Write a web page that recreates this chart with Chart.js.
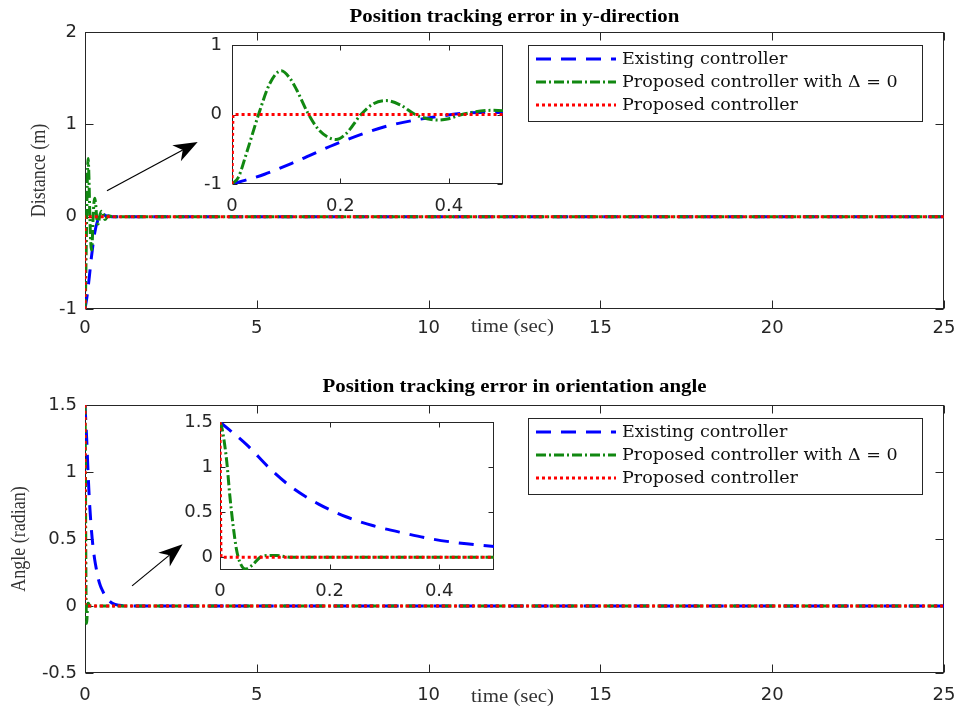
<!DOCTYPE html>
<html>
<head>
<meta charset="utf-8">
<script src="https://cdn.jsdelivr.net/npm/chart.js@4.4.1/dist/chart.umd.min.js"></script>
<style>
    body { margin: 0; background: #fff; }
    #wrap { position: relative; width: 960px; height: 711px; overflow: hidden; }
    canvas { position: absolute; }
</style>
</head>
<body>
<div id="wrap">
    <canvas id="mainTop" width="960" height="360" style="left:0;top:0"></canvas>
    <canvas id="mainBottom" width="960" height="351" style="left:0;top:360px"></canvas>
    <canvas id="insetTop" width="330" height="190" style="left:180px;top:30px"></canvas>
    <canvas id="insetBottom" width="330" height="195" style="left:170px;top:405px"></canvas>
</div>
<script>
// legend labels
const seriesLabels = ["Existing controller", "Proposed controller with Δ = 0", "Proposed controller"];

// y-direction error (time in sec, distance in m)
const yExistingT = [0, 0.06, 0.12, 0.19, 0.28, 0.37, 0.46, 0.52, 0.6, 0.8, 25];
const yExisting = [-1, -0.86, -0.67, -0.43, -0.18, -0.04, 0.03, 0.03, 0.01, 0, 0];

const yDeltaT = [0, 0.012, 0.027, 0.049, 0.07, 0.091, 0.107, 0.119, 0.14, 0.16, 0.178, 0.192, 0.21, 0.238, 0.26, 0.284, 0.31, 0.338, 0.36, 0.38, 0.4, 0.424, 0.479, 0.52, 0.58, 0.68, 0.8, 25];
const yDelta = [-1, -0.9, -0.55, 0, 0.45, 0.63, 0.52, 0.36, 0.02, -0.22, -0.33, -0.36, -0.28, 0, 0.15, 0.2, 0.14, 0, -0.06, -0.08, -0.06, 0, 0.06, 0.04, -0.03, 0.01, 0, 0];

const yProposedT = [0, 0.002, 25];
const yProposed = [-1, 0, 0];

// orientation angle error (time in sec, angle in radian)
const aExistingT = [0, 0.05, 0.09, 0.13, 0.18, 0.23, 0.28, 0.335, 0.39, 0.45, 0.5, 0.6, 0.7, 0.8, 1.0, 1.2, 25];
const aExisting = [1.5, 1.24, 0.99, 0.78, 0.59, 0.45, 0.35, 0.27, 0.2, 0.15, 0.12, 0.07, 0.04, 0.02, 0.005, 0, 0];

const aDeltaT = [0, 0.003, 0.012, 0.018, 0.024, 0.03, 0.036, 0.046, 0.058, 0.073, 0.088, 0.104, 0.13, 25];
const aDelta = [1.5, 1.45, 1.08, 0.68, 0.35, 0.09, -0.05, -0.13, -0.09, 0, 0.02, 0.02, 0, 0];

const aProposedT = [0, 0.002, 25];
const aProposed = [1.5, 0, 0];

// tick labels
const mainTimeTicks = [0, 5, 10, 15, 20, 25];
const distanceTicks = [-1, 0, 1, 2];
const angleTicks = [-0.5, 0, 0.5, 1, 1.5];
const insetTimeTicks = [0, 0.2, 0.4];
const insetDistanceTicks = [-1, 0, 1];
const insetAngleTicks = [0, 0.5, 1, 1.5];

const axisColor = "#262626";
const tickFont = { family: "DejaVu Sans", size: 18 };

function series(times, values) {
    return times.map((t, i) => ({ x: t, y: values[i] }));
}

function makeDatasets(existingT, existing, deltaT, delta, proposedT, proposed) {
    let sets = [
        { label: seriesLabels[0], data: series(existingT, existing), borderColor: "#0000ff", borderDash: [15, 10], order: 2 },
        { label: seriesLabels[1], data: series(deltaT, delta), borderColor: "#118811", borderDash: [10, 3, 2, 3], order: 1 },
        { label: seriesLabels[2], data: series(proposedT, proposed), borderColor: "#ff0000", borderDash: [3, 3], order: 0 }
    ];
    sets.forEach(d => {
        d.borderWidth = 3;
        d.pointRadius = 0;
        d.fill = false;
        d.cubicInterpolationMode = "monotone";
    });
    return sets;
}

function drawStretched(ctx, text, x, y, sx) {
    ctx.save();
    ctx.translate(x, y);
    ctx.scale(sx, 1);
    ctx.fillText(text, 0, 0);
    ctx.restore();
}

// MATLAB-like box, inward ticks, titles, legend and arrow
const decorPlugin = {
    id: "decor",
    beforeDatasetsDraw(chart, args, opts) {
        const ctx = chart.ctx;
        const a = chart.chartArea;
        const xs = chart.scales.x;
        const ys = chart.scales.y;
        const L = Math.round(a.left) + 0.5, R = Math.round(a.right) - 0.5;
        const T = Math.round(a.top) + 0.5, B = Math.round(a.bottom) - 0.5;
        const tl = opts.tickLen;

        ctx.save();
        ctx.strokeStyle = axisColor;
        ctx.lineWidth = 1;
        ctx.setLineDash([]);
        ctx.strokeRect(L, T, R - L, B - T);

        ctx.beginPath();
        xs.ticks.forEach(t => {
            const px = Math.round(xs.getPixelForValue(t.value)) + 0.5;
            ctx.moveTo(px, B); ctx.lineTo(px, B - tl);
            ctx.moveTo(px, T); ctx.lineTo(px, T + tl);
        });
        ys.ticks.forEach(t => {
            const py = Math.round(ys.getPixelForValue(t.value)) + 0.5;
            ctx.moveTo(L, py); ctx.lineTo(L + tl, py);
            ctx.moveTo(R, py); ctx.lineTo(R - tl, py);
        });
        ctx.stroke();
        ctx.restore();
    },
    afterDraw(chart, args, opts) {
        const ctx = chart.ctx;
        const a = chart.chartArea;
        const xs = chart.scales.x;
        const ys = chart.scales.y;
        const cx = (a.left + a.right) / 2;

        ctx.save();
        if (opts.title) {
            ctx.fillStyle = "#000";
            ctx.font = "bold 18px 'Liberation Serif'";
            ctx.textAlign = "center";
            ctx.textBaseline = "middle";
            drawStretched(ctx, opts.title, cx, a.top - opts.titleGap, 1.16);
        }

        if (opts.xlabel) {
            ctx.fillStyle = "#333";
            ctx.font = "18px 'Liberation Serif'";
            ctx.textAlign = "center";
            ctx.textBaseline = "middle";
            drawStretched(ctx, opts.xlabel, cx - 2, a.bottom + opts.xlabelGap, 1.16);
        }

        if (opts.ylabel) {
            ctx.save();
            ctx.fillStyle = "#333";
            ctx.font = "18px 'Liberation Serif'";
            ctx.textAlign = "center";
            ctx.textBaseline = "middle";
            ctx.translate(opts.ylabelX, (a.top + a.bottom) / 2);
            ctx.rotate(-Math.PI / 2);
            ctx.scale(1, 1.12);
            ctx.fillText(opts.ylabel, 0, 0);
            ctx.restore();
        }

        if (opts.arrow) {
            const x0 = xs.getPixelForValue(opts.arrow.from[0]), y0 = ys.getPixelForValue(opts.arrow.from[1]);
            const x1 = xs.getPixelForValue(opts.arrow.to[0]), y1 = ys.getPixelForValue(opts.arrow.to[1]);
            const ang = Math.atan2(y1 - y0, x1 - x0);
            const len = 24, half = 9, notch = 17;
            ctx.strokeStyle = "#000";
            ctx.fillStyle = "#000";
            ctx.lineWidth = 1.2;
            ctx.beginPath();
            ctx.moveTo(x0, y0);
            ctx.lineTo(x1 - Math.cos(ang) * notch, y1 - Math.sin(ang) * notch);
            ctx.stroke();
            ctx.save();
            ctx.translate(x1, y1);
            ctx.rotate(ang);
            ctx.beginPath();
            ctx.moveTo(0, 0);
            ctx.lineTo(-len, -half);
            ctx.lineTo(-notch, 0);
            ctx.lineTo(-len, half);
            ctx.closePath();
            ctx.fill();
            ctx.restore();
        }

        if (opts.legend) {
            const lg = opts.legend;
            ctx.fillStyle = "#fff";
            ctx.fillRect(lg.left, lg.top, lg.width, lg.height);
            ctx.strokeStyle = axisColor;
            ctx.lineWidth = 1;
            ctx.strokeRect(lg.left + 0.5, lg.top + 0.5, lg.width, lg.height);
            chart.data.datasets.forEach((d, i) => {
                const yy = lg.top + lg.firstRow + i * lg.rowH;
                ctx.strokeStyle = d.borderColor;
                ctx.lineWidth = 3;
                ctx.setLineDash(d.borderDash);
                ctx.beginPath();
                ctx.moveTo(lg.left + 8, yy);
                ctx.lineTo(lg.left + 88, yy);
                ctx.stroke();
                ctx.setLineDash([]);
                ctx.fillStyle = "#111";
                ctx.font = "17.5px 'DejaVu Serif'";
                ctx.textAlign = "left";
                ctx.textBaseline = "middle";
                ctx.fillText(d.label, lg.left + 94, yy);
            });
        }
        ctx.restore();
    }
};

function makeChart(id, datasets, xr, yr, xTicks, yTicks, box, decor) {
    return new Chart(document.getElementById(id), {
        type: "line",
        data: { datasets: datasets },
        plugins: [decorPlugin],
        options: {
            responsive: false,
            animation: false,
            events: [],
            layout: { padding: box.padding },
            plugins: {
                legend: { display: false },
                tooltip: { enabled: false },
                decor: decor
            },
            scales: {
                x: {
                    type: "linear",
                    min: xr[0],
                    max: xr[1],
                    grid: { display: false, drawTicks: false },
                    border: { display: false },
                    ticks: { font: tickFont, color: axisColor, padding: box.xPad, maxRotation: 0, autoSkip: false, callback: v => String(v) },
                    afterBuildTicks: s => { s.ticks = xTicks.map(v => ({ value: v })); },
                    afterFit: s => {
                        s.height = box.xHeight;
                        s.paddingLeft = 0;
                        s.paddingRight = 0;
                    }
                },
                y: {
                    type: "linear",
                    min: yr[0],
                    max: yr[1],
                    grid: { display: false, drawTicks: false },
                    border: { display: false },
                    ticks: { font: tickFont, color: axisColor, padding: box.yPad, autoSkip: false, callback: v => String(v) },
                    afterBuildTicks: s => { s.ticks = yTicks.map(v => ({ value: v })); },
                    afterFit: s => {
                        s.width = box.yWidth;
                        s.paddingTop = 0;
                        s.paddingBottom = 0;
                    }
                }
            }
        }
    });
}

const topSets = () => makeDatasets(yExistingT, yExisting, yDeltaT, yDelta, yProposedT, yProposed);
const bottomSets = () => makeDatasets(aExistingT, aExisting, aDeltaT, aDelta, aProposedT, aProposed);

makeChart("mainTop", topSets(), [0, 25], [-1, 2], mainTimeTicks, distanceTicks,
    { padding: { left: 0, right: 16, top: 32, bottom: 0 }, xHeight: 51, yWidth: 85, xPad: 9, yPad: 8 },
    {
        tickLen: 8,
        title: "Position tracking error in y-direction", titleGap: 15,
        xlabel: "time (sec)", xlabelGap: 18,
        ylabel: "Distance (m)", ylabelX: 40,
        arrow: { from: [0.64, 0.28], to: [3.28, 0.81] },
        legend: { left: 528, top: 45, width: 394, height: 76, firstRow: 14, rowH: 23 }
    });

makeChart("mainBottom", bottomSets(), [0, 25], [-0.5, 1.5], mainTimeTicks, angleTicks,
    { padding: { left: 0, right: 16, top: 45, bottom: 0 }, xHeight: 38, yWidth: 85, xPad: 12, yPad: 8 },
    {
        tickLen: 8,
        title: "Position tracking error in orientation angle", titleGap: 18,
        xlabel: "time (sec)", xlabelGap: 24,
        ylabel: "Angle (radian)", ylabelX: 20,
        arrow: { from: [1.37, 0.15], to: [2.84, 0.46] },
        legend: { left: 528, top: 58, width: 394, height: 76, firstRow: 14, rowH: 23 }
    });

makeChart("insetTop", topSets(), [0, 0.5], [-1, 1], insetTimeTicks, insetDistanceTicks,
    { padding: { left: 0, right: 7, top: 15, bottom: 0 }, xHeight: 36, yWidth: 52, xPad: 12, yPad: 10 },
    { tickLen: 5 });

makeChart("insetBottom", bottomSets(), [0, 0.5], [-0.14, 1.5], insetTimeTicks, insetAngleTicks,
    { padding: { left: 0, right: 6, top: 17, bottom: 0 }, xHeight: 30, yWidth: 50, xPad: 11, yPad: 7 },
    { tickLen: 5 });
</script>
</body>
</html>
